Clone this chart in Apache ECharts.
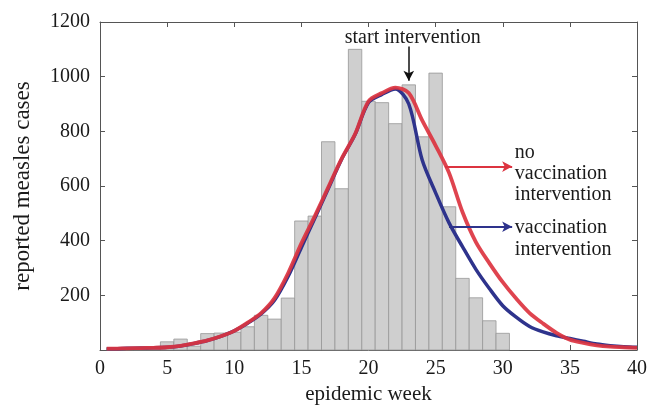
<!DOCTYPE html>
<html>
<head>
<meta charset="utf-8">
<script src="https://cdn.jsdelivr.net/npm/echarts@6/dist/echarts.min.js"></script>
<style>
  html, body { margin: 0; padding: 0; background: #fff; }
  #chart { width: 650px; height: 410px; }
</style>
</head>
<body>
<div id="chart"></div>
<script>
// Weekly reported measles cases (histogram)
const weeks = [1, 2, 3, 4, 5, 6, 7, 8, 9, 10, 11, 12, 13, 14, 15,
               16, 17, 18, 19, 20, 21, 22, 23, 24, 25, 26, 27, 28, 29, 30];
const reportedCases = [8, 3, 3, 4, 30, 40, 14, 60, 62, 65, 85, 127, 113, 190, 472,
                       490, 762, 590, 1100, 910, 905, 828, 970, 780, 1013, 524, 262, 191, 107, 61];

// Model curves, sampled weekly
const curveWeeks = [0.5, 1, 2, 3, 4, 5, 6, 7, 8, 9, 10, 11, 12, 13, 14, 15, 16, 17, 18, 19, 20,
                    21, 22, 23, 24, 25, 26, 27, 28, 29, 30, 31, 32, 33, 34, 35, 36, 37, 38, 39, 40];
const noVaccination = [5, 5, 6, 7, 8, 10, 15, 24, 35, 50, 70, 100, 135, 190, 280, 390, 490, 595, 700, 790, 910,
                       940, 960, 940, 840, 748, 648, 505, 395, 318, 248, 188, 135, 97, 63, 38, 26, 17, 12, 10, 8];
const vaccination = [5, 5, 6, 7, 8, 10, 15, 24, 35, 50, 70, 98, 132, 182, 268, 375, 482, 590, 698, 788, 905,
                     935, 955, 900, 695, 575, 465, 378, 295, 225, 162, 120, 86, 66, 52, 42, 32, 22, 16, 12, 10];

// Axis ranges and tick steps
const xRange = [0, 40], xStep = 5;
const yRange = [0, 1200], yStep = 200;

// Annotation anchors (data coordinates)
const interventionWeek = 23;
const interventionArrow = [1110, 985];
const interventionText = 'start intervention';
const noVacLabel = 'no\nvaccination\nintervention';
const vacLabel = 'vaccination\nintervention';
const noVacArrow = [[25.7, 671], [30.7, 671]];
const vacArrow = [[26.0, 451], [30.7, 451]];

const SERIF = '"Liberation Serif", "Times New Roman", serif';
const frameColor = '#555';
const textColor = '#1a1a1a';
const redColor = '#dc3440';
const blueColor = '#2e338c';

const chart = echarts.init(document.getElementById('chart'));

const baseAxis = {
  axisLine: { show: true, onZero: false, lineStyle: { color: frameColor, width: 1 } },
  axisTick: { show: true, inside: true, length: 5, lineStyle: { color: frameColor } },
  splitLine: { show: false }
};

chart.setOption({
  animation: false,
  backgroundColor: '#fff',
  grid: { left: 100, right: 11, top: 22, bottom: 60, containLabel: false },
  xAxis: [
    Object.assign({}, baseAxis, {
      type: 'value', min: xRange[0], max: xRange[1], interval: xStep, position: 'bottom',
      name: 'epidemic week', nameLocation: 'middle', nameGap: 33,
      nameTextStyle: { fontFamily: SERIF, fontSize: 21, color: textColor },
      axisLabel: { fontFamily: SERIF, fontSize: 20, color: textColor, margin: 9 }
    }),
    Object.assign({}, baseAxis, {
      type: 'value', min: xRange[0], max: xRange[1], interval: xStep, position: 'top',
      axisLabel: { show: false }
    })
  ],
  yAxis: [
    Object.assign({}, baseAxis, {
      type: 'value', min: yRange[0], max: yRange[1], interval: yStep, position: 'left',
      name: 'reported measles cases', nameLocation: 'middle', nameGap: 66, nameRotate: 90,
      nameTextStyle: { fontFamily: SERIF, fontSize: 23, color: textColor },
      axisLabel: {
        fontFamily: SERIF, fontSize: 20, color: textColor, margin: 10,
        formatter: v => (v === 0 ? '' : String(v))
      }
    }),
    Object.assign({}, baseAxis, {
      type: 'value', min: yRange[0], max: yRange[1], interval: yStep, position: 'right',
      axisLabel: { show: false }
    })
  ],
  series: [
    {
      name: 'reported cases',
      type: 'custom',
      xAxisIndex: 0, yAxisIndex: 0,
      data: weeks.map((w, i) => [w, reportedCases[i]]),
      renderItem: function (params, api) {
        const w = api.value(0), v = api.value(1);
        const corner = api.coord([w - 0.5, v]);
        const size = api.size([1, v]);
        return {
          type: 'rect',
          shape: { x: corner[0], y: corner[1], width: size[0], height: size[1] },
          style: { fill: '#cfcfcf', stroke: '#979797', lineWidth: 0.8 }
        };
      },
      z: 1
    },
    {
      name: 'vaccination intervention',
      type: 'line',
      data: curveWeeks.map((w, i) => [w, vaccination[i]]),
      smooth: 0.3,
      symbol: 'none',
      lineStyle: { color: blueColor, width: 3.5 },
      markLine: {
        silent: true, symbol: ['none', 'arrow'], symbolSize: [8, 10],
        lineStyle: { color: blueColor, width: 2, type: 'solid' },
        label: { show: false },
        data: [[{ coord: vacArrow[0] }, { coord: vacArrow[1] }]]
      },
      markPoint: {
        silent: true, symbol: 'circle', symbolSize: 0,
        label: {
          show: true, position: 'right', distance: 0, formatter: vacLabel,
          fontFamily: SERIF, fontSize: 20, lineHeight: 22, color: textColor, align: 'left'
        },
        data: [{ coord: [30.9, 408] }]
      },
      z: 3
    },
    {
      name: 'no vaccination intervention',
      type: 'line',
      data: curveWeeks.map((w, i) => [w, noVaccination[i]]),
      smooth: 0.3,
      symbol: 'none',
      lineStyle: { color: redColor, width: 3.8, opacity: 0.92 },
      markLine: {
        silent: true, symbol: ['none', 'arrow'], symbolSize: [8, 10],
        lineStyle: { color: redColor, width: 2, type: 'solid' },
        label: { show: false },
        data: [
          [{ coord: noVacArrow[0] }, { coord: noVacArrow[1] }]
        ]
      },
      markPoint: {
        silent: true, symbol: 'circle', symbolSize: 0,
        label: {
          show: true, position: 'right', distance: 0, formatter: noVacLabel,
          fontFamily: SERIF, fontSize: 20, lineHeight: 21, color: textColor, align: 'left'
        },
        data: [{ coord: [30.9, 643] }]
      },
      z: 4
    },
    {
      name: 'intervention marker',
      type: 'line',
      data: [],
      markLine: {
        silent: true, symbol: ['none', 'arrow'], symbolSize: [8, 10],
        lineStyle: { color: '#111', width: 1.5, type: 'solid' },
        label: { show: false },
        data: [[{ coord: [interventionWeek, interventionArrow[0]] },
                { coord: [interventionWeek, interventionArrow[1]] }]]
      },
      markPoint: {
        silent: true, symbol: 'circle', symbolSize: 0,
        label: {
          show: true, position: 'inside', formatter: interventionText,
          fontFamily: SERIF, fontSize: 20, color: textColor
        },
        data: [{ coord: [interventionWeek + 0.3, 1143] }]
      },
      z: 5
    }
  ]
});
</script>
</body>
</html>
